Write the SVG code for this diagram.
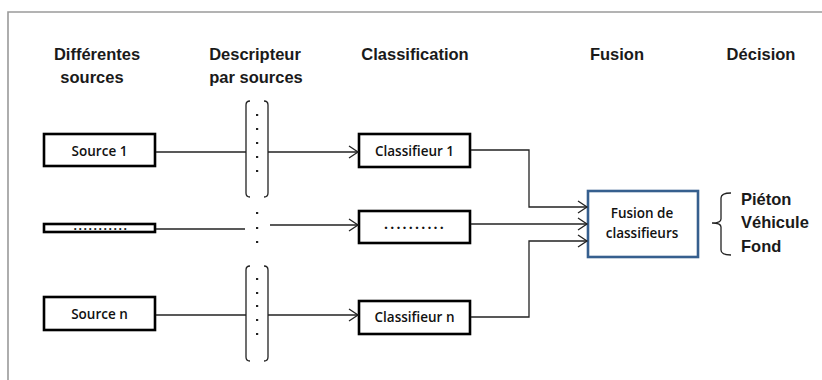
<svg xmlns="http://www.w3.org/2000/svg" width="822" height="380" viewBox="0 0 822 380">
<defs>
<marker id="arr" markerUnits="userSpaceOnUse" markerWidth="12" markerHeight="14" refX="10" refY="7" orient="auto" viewBox="0 0 12 14">
<path d="M1,1 L10,7 L1,13" fill="none" stroke="#222" stroke-width="1.3"/>
</marker>
</defs>
<style>
.hdr{font-family:"Liberation Sans",Arial,sans-serif;font-weight:bold;font-size:16.5px;fill:#1a1a1a;text-anchor:middle}
.box{fill:#fff;stroke:#000;stroke-width:2.6}
.lbl{font-family:"Open Sans","Liberation Sans",Arial,sans-serif;font-weight:600;font-size:13.5px;fill:#111;text-anchor:middle}
.dots{font-family:"Open Sans","Liberation Sans",Arial,sans-serif;font-weight:bold;fill:#111;text-anchor:middle}
.dec{font-family:"Liberation Sans",Arial,sans-serif;font-weight:bold;font-size:16.5px;fill:#1a1a1a}
.ln{fill:none;stroke:#222;stroke-width:1.3}
.br{fill:none;stroke:#222;stroke-width:1.3}
.dot{fill:#222}
</style>
<rect width="822" height="380" fill="#fff"/>
<path d="M8,380 V12 H822" fill="none" stroke="#9a9a9a" stroke-width="1.6"/>

<g id="headers">
<text class="hdr" x="97" y="60">Différentes</text>
<text class="hdr" x="92" y="83">sources</text>
<text class="hdr" x="255" y="60">Descripteur</text>
<text class="hdr" x="256" y="83">par sources</text>
<text class="hdr" x="415" y="60">Classification</text>
<text class="hdr" x="617" y="60">Fusion</text>
<text class="hdr" x="761" y="60">Décision</text>
</g>

<g id="source1">
<rect class="box" x="44" y="134" width="111" height="32"/>
<text class="lbl" x="99.5" y="156">Source 1</text>
</g>
<g id="source-mid">
<rect class="box" x="44" y="224" width="111" height="8" stroke-width="2.2"/>
<text class="dots" x="101" y="229.5" font-size="12" letter-spacing="1.6">...........</text>
</g>
<g id="sourcen">
<rect class="box" x="44" y="297" width="111" height="33"/>
<text class="lbl" x="99.5" y="319">Source n</text>
</g>

<g id="desc1">
<path class="br" d="M250,101 Q246,101 246,105 V193 Q246,197 250,197"/>
<path class="br" d="M264,101 Q268,101 268,105 V193 Q268,197 264,197"/>
<rect class="dot" x="256" y="114" width="2.2" height="2"/>
<rect class="dot" x="256" y="128" width="2.2" height="2"/>
<rect class="dot" x="256" y="142" width="2.2" height="2"/>
<rect class="dot" x="256" y="156" width="2.2" height="2"/>
<rect class="dot" x="256" y="170" width="2.2" height="2"/>
</g>
<g id="desc-mid">
<rect class="dot" x="256" y="212" width="2.2" height="2"/>
<rect class="dot" x="256" y="227" width="2.2" height="2"/>
<rect class="dot" x="256" y="241" width="2.2" height="2"/>
</g>
<g id="descn">
<path class="br" d="M250,266 Q246,266 246,270 V357 Q246,361 250,361"/>
<path class="br" d="M264,266 Q268,266 268,270 V357 Q268,361 264,361"/>
<rect class="dot" x="256" y="278" width="2.2" height="2"/>
<rect class="dot" x="256" y="292" width="2.2" height="2"/>
<rect class="dot" x="256" y="305" width="2.2" height="2"/>
<rect class="dot" x="256" y="319" width="2.2" height="2"/>
<rect class="dot" x="256" y="333" width="2.2" height="2"/>
</g>

<g id="classif1">
<rect class="box" x="359" y="134" width="111" height="33"/>
<text class="lbl" x="414.5" y="156">Classifieur 1</text>
</g>
<g id="classif-mid">
<rect class="box" x="359" y="211" width="111" height="32"/>
<text class="dots" x="415" y="229" font-size="14" letter-spacing="2.2">..........</text>
</g>
<g id="classifn">
<rect class="box" x="359" y="301" width="111" height="33"/>
<text class="lbl" x="414.5" y="322">Classifieur n</text>
</g>

<g id="fusion">
<rect x="588" y="191" width="110" height="66" fill="#fff" stroke="#365f8e" stroke-width="2.6"/>
<text class="lbl" x="642" y="218" font-size="15">Fusion de</text>
<text class="lbl" x="642" y="238" font-size="15">classifieurs</text>
</g>

<g id="decision">
<path class="br" d="M731,193 Q721,193 721,198 V219 Q721,223 712,223 Q721,223 721,227 V250 Q721,255 731,255"/>
<text class="dec" x="741" y="205">Piéton</text>
<text class="dec" x="741" y="228">Véhicule</text>
<text class="dec" x="741" y="252">Fond</text>
</g>

<g id="connectors">
<path class="ln" d="M156,152 H246"/>
<path class="ln" d="M268,152 H358" marker-end="url(#arr)"/>
<path class="ln" d="M156,229 H245"/>
<path class="ln" d="M270,225 H358" marker-end="url(#arr)"/>
<path class="ln" d="M156,315 H246"/>
<path class="ln" d="M268,315 H358" marker-end="url(#arr)"/>
<path class="ln" d="M471,150 H529 V207 H587" marker-end="url(#arr)"/>
<path class="ln" d="M471,224 H587" marker-end="url(#arr)"/>
<path class="ln" d="M471,317 H529 V241 H587" marker-end="url(#arr)"/>
</g>
</svg>
